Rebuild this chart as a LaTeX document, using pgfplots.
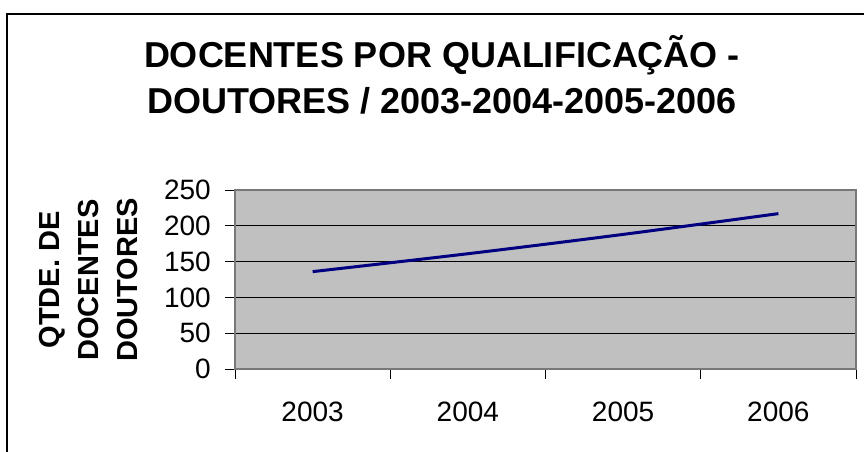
\documentclass[border=0pt]{standalone}
\usepackage{fontspec}
\setmainfont{Liberation Sans}
\usepackage{pgfplots}
\pgfplotsset{compat=1.18}
\definecolor{plotbg}{RGB}{192,192,192}
\definecolor{framecol}{RGB}{120,120,120}
\definecolor{navyline}{RGB}{0,0,128}
\begin{document}
\begin{tikzpicture}
\useasboundingbox (0pt,0pt) rectangle (864pt,451pt);
\draw[line width=1.5pt] (7pt,-20pt) -- (7pt,437pt) -- (900pt,437pt);
\node[anchor=base, inner sep=0pt, font=\fontsize{36}{44}\selectfont\bfseries] at (442pt,384pt) {DOCENTES POR QUALIFICAÇÃO -};
\node[anchor=base, inner sep=0pt, font=\fontsize{36}{44}\selectfont\bfseries] at (442pt,338pt) {DOUTORES / 2003-2004-2005-2006};
\node[rotate=90, align=center, font=\fontsize{29}{39}\selectfont\bfseries] at (89pt,171pt) {QTDE. DE\\DOCENTES\\DOUTORES};
\begin{axis}[at={(235pt,82pt)}, anchor=south west, width=621pt, height=179pt, scale only axis,
  xmin=0.5, xmax=4.5, ymin=0, ymax=250,
  ytick={0,50,...,250},
  xtick={0.5,1.5,2.5,3.5,4.5}, xticklabels={},
  extra x ticks={1,2,3,4}, extra x tick labels={2003,2004,2005,2006},
  extra x tick style={tick style={draw=none}},
  tick pos=left,
  tick align=outside, major tick length=10pt,
  tick style={black, line width=1pt},
  ymajorgrids, grid style={black, line width=1pt},
  axis background/.style={fill=plotbg},
  axis line style={framecol, line width=2pt},
  tick label style={font=\fontsize{28}{34}\selectfont, inner sep=0pt},
  yticklabel style={xshift=-14pt},
  xticklabel style={yshift=-23pt},
  /pgf/number format/assume math mode=true,
]
\addplot[navyline, line width=3pt, smooth] coordinates {(1,136) (2,161) (3,188) (4,217)};
\end{axis}
\end{tikzpicture}
\end{document}
